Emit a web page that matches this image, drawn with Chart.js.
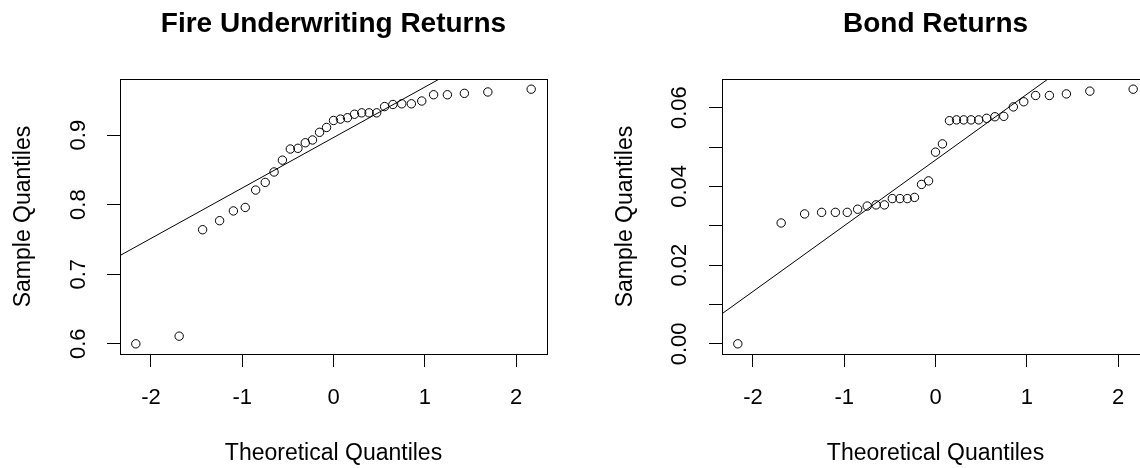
<!DOCTYPE html>
<html><head><meta charset="utf-8">
<script src="https://cdn.jsdelivr.net/npm/chart.js@4/dist/chart.umd.min.js"></script>
<style>
html,body{margin:0;padding:0;background:#fff;overflow:hidden;width:1140px;height:468px;position:relative;}
.panel{position:absolute;top:0;width:601px;height:468px;}
#p1{left:0}
#p2{left:602px}
canvas{display:block}
</style></head><body>
<div class="panel" id="p1"><canvas id="c1" width="601" height="468"></canvas></div>
<div class="panel" id="p2"><canvas id="c2" width="601" height="468"></canvas></div>
<script>
// Theoretical normal quantiles (n = 33), shared by both panels
const theoreticalQuantiles = [-2.166, -1.691, -1.434, -1.248, -1.097, -0.967, -0.853, -0.748, -0.651, -0.560, -0.473, -0.390, -0.309, -0.230, -0.153, -0.076, 0, 0.076, 0.153, 0.230, 0.309, 0.390, 0.473, 0.560, 0.651, 0.748, 0.853, 0.967, 1.097, 1.248, 1.434, 1.691, 2.166];
// Sample quantiles
const fireReturns = [0.600, 0.611, 0.764, 0.777, 0.791, 0.796, 0.821, 0.832, 0.847, 0.864, 0.880, 0.881, 0.889, 0.893, 0.904, 0.911, 0.921, 0.923, 0.925, 0.930, 0.932, 0.932, 0.932, 0.941, 0.944, 0.945, 0.945, 0.949, 0.958, 0.958, 0.960, 0.962, 0.966];
const bondReturns = [0.0000, 0.0307, 0.0330, 0.0334, 0.0334, 0.0334, 0.0342, 0.0350, 0.0353, 0.0353, 0.0369, 0.0369, 0.0369, 0.0372, 0.0405, 0.0414, 0.0487, 0.0508, 0.0567, 0.0569, 0.0569, 0.0569, 0.0569, 0.0573, 0.0577, 0.0578, 0.0602, 0.0615, 0.0631, 0.0631, 0.0635, 0.0642, 0.0647];
// Reference (qq) lines: endpoints
const fireLineX = [-3, 3];
const fireLineY = [0.679, 1.114];
const bondLineX = [-3, 3];
const bondLineY = [-0.0034, 0.0968];
// Ticks
const xTicks = [-2, -1, 0, 1, 2];
const xTickLabels = ['-2', '-1', '0', '1', '2'];
const fireYTicks = [0.6, 0.7, 0.8, 0.9];
const fireYTickLabels = ['0.6', '0.7', '0.8', '0.9'];
const bondYTicks = [0, 0.01, 0.02, 0.03, 0.04, 0.05, 0.06];
const bondYTickLabels = ['0.00', '', '0.02', '', '0.04', '', '0.06'];
const titles = ['Fire Underwriting Returns', 'Bond Returns'];
const xTitle = 'Theoretical Quantiles';
const yTitle = 'Sample Quantiles';

const FAMILY = '"Liberation Sans", Arial, Helvetica, sans-serif';

function ext(arr) {
  const lo = Math.min(...arr), hi = Math.max(...arr), r = hi - lo;
  return [lo - 0.04 * r, hi + 0.04 * r];
}

const boxPlugin = {
  id: 'rbox',
  afterDraw(chart) {
    const {ctx, chartArea: a} = chart;
    ctx.save();
    ctx.strokeStyle = '#000';
    ctx.lineWidth = 1;
    ctx.strokeRect(Math.round(a.left) + 0.5, Math.round(a.top) + 0.5, Math.round(a.right) - Math.round(a.left), Math.round(a.bottom) - Math.round(a.top));
    ctx.restore();
  }
};

function makeChart(id, title, ys, lineX, lineY, yTicks, yTickLabels, yPad) {
  const [xmin, xmax] = ext(theoreticalQuantiles);
  const [ymin, ymax] = ext(ys);
  const pts = theoreticalQuantiles.map((x, i) => ({x: x, y: ys[i]}));
  const line = lineX.map((x, i) => ({x: x, y: lineY[i]}));
  return new Chart(document.getElementById(id), {
    type: 'scatter',
    data: {
      datasets: [
        {data: pts, showLine: false, pointStyle: 'circle', pointRadius: 4.2, pointBorderWidth: 1,
         pointBorderColor: '#000', pointBackgroundColor: 'rgba(0,0,0,0)', pointHoverRadius: 4.2},
        {data: line, showLine: true, borderColor: '#000', borderWidth: 1, pointRadius: 0, pointHoverRadius: 0, fill: false}
      ]
    },
    options: {
      responsive: false, animation: false, devicePixelRatio: 1,
      layout: {padding: {left: 0, right: 54, top: 0, bottom: 0}},
      events: [],
      plugins: {
        legend: {display: false}, tooltip: {enabled: false},
        title: {display: true, text: title, fullSize: false, color: '#000',
          font: {family: FAMILY, size: 28, weight: 'bold', lineHeight: 1.2},
          padding: {top: 7, bottom: 38.4}}
      },
      scales: {
        x: {
          type: 'linear', position: 'bottom', min: xmin, max: xmax,
          afterBuildTicks: s => { s.ticks = xTicks.map(v => ({value: v})); },
          afterFit: s => { s.height = 114; },
          ticks: {callback: v => xTickLabels[xTicks.indexOf(v)], color: '#000', autoSkip: false, maxRotation: 0,
            padding: 18, font: {family: FAMILY, size: 22, lineHeight: 1.2}},
          grid: {drawOnChartArea: false, drawTicks: true, tickLength: 13, color: '#000', lineWidth: 1},
          border: {display: false},
          title: {display: true, text: xTitle, color: '#000', font: {family: FAMILY, size: 23, lineHeight: 1.2},
            padding: {top: 0, bottom: 1}}
        },
        y: {
          type: 'linear', position: 'left', min: ymin, max: ymax,
          afterBuildTicks: s => { s.ticks = yTicks.map(v => ({value: v})); },
          afterFit: s => { s.width = 120; },
          ticks: {callback: v => yTickLabels[yTicks.findIndex(t => Math.abs(t - v) < 1e-9)], color: '#000', autoSkip: false,
            minRotation: 90, maxRotation: 90, crossAlign: 'center', padding: yPad,
            font: {family: FAMILY, size: 22, lineHeight: 1.2}},
          grid: {drawOnChartArea: false, drawTicks: true, tickLength: 13, color: '#000', lineWidth: 1},
          border: {display: false},
          title: {display: true, text: yTitle, color: '#000', font: {family: FAMILY, size: 23, lineHeight: 1.2},
            padding: {top: 10, bottom: 0}}
        }
      }
    },
    plugins: [boxPlugin]
  });
}

makeChart('c1', titles[0], fireReturns, fireLineX, fireLineY, fireYTicks, fireYTickLabels, 13);
makeChart('c2', titles[1], bondReturns, bondLineX, bondLineY, bondYTicks, bondYTickLabels, 8);
</script>
</body></html>
